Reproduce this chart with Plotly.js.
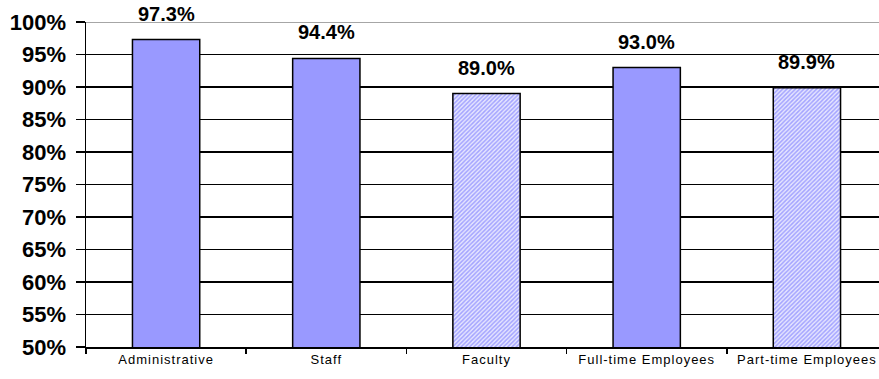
<!DOCTYPE html>
<html><head><meta charset="utf-8">
<script src="https://cdn.plot.ly/plotly-3.0.1.min.js"></script>
<style>html,body{margin:0;padding:0;background:#fff;}
.xtick text{letter-spacing:1px;}</style>
</head><body>
<div id="chart" style="width:879px;height:379px;"></div>
<script>
const categories = ["Administrative", "Staff", "Faculty", "Full-time Employees", "Part-time Employees"];
const values = [97.3, 94.4, 89.0, 93.0, 89.9];
const hatched = [false, false, true, false, true];
const yTickVals = [50, 55, 60, 65, 70, 75, 80, 85, 90, 95, 100];
const yTickText = yTickVals.map(v => v + "%");

const trace = {
  type: "bar",
  x: categories,
  y: values,
  width: 0.42,
  marker: {
    color: "#9999FF",
    line: {color: "#000000", width: 1.5},
    pattern: {
      shape: hatched.map(h => h ? "/" : ""),
      fillmode: "replace",
      bgcolor: "#E6E6FF",
      fgcolor: "#A3A3FF",
      size: 3,
      solidity: 0.5
    }
  },
  hoverinfo: "none"
};

const annotations = categories.map((c, i) => ({
  x: c, y: values[i], xref: "x", yref: "y",
  text: values[i].toFixed(1) + "%",
  showarrow: false, yanchor: "bottom", yshift: 13,
  font: {family: "Arial, Liberation Sans, sans-serif", size: 20, color: "#000", weight: "bold"}
}));

const layout = {
  width: 879, height: 379,
  margin: {l: 86, r: 0, t: 22, b: 32},
  paper_bgcolor: "#fff", plot_bgcolor: "#fff",
  showlegend: false,
  xaxis: {
    type: "category",
    range: [-0.5, 4.45],
    showline: true, linecolor: "#000", linewidth: 1.5,
    ticks: "outside", ticklen: 5, tickcolor: "#000", tickwidth: 1.5,
    tickson: "boundaries",
    showgrid: false,
    tickfont: {family: "Arial, Liberation Sans, sans-serif", size: 13, color: "#000"},
    fixedrange: true
  },
  yaxis: {
    range: [50, 100],
    tickvals: yTickVals, ticktext: yTickText,
    showline: true, linecolor: "#000", linewidth: 1.5,
    ticks: "outside", ticklen: 9, tickcolor: "#000", tickwidth: 1.5,
    ticklabelstandoff: 5,
    showgrid: true, gridcolor: "#000", gridwidth: 1.5,
    zeroline: false,
    tickfont: {family: "Arial, Liberation Sans, sans-serif", size: 22, color: "#000", weight: "bold"},
    fixedrange: true
  },
  shapes: [{
    type: "line", xref: "paper", yref: "y", x0: 0, x1: 1, y0: 100, y1: 100,
    line: {color: "#888888", width: 1.5}, layer: "above"
  }],
  annotations: annotations
};

Plotly.newPlot("chart", [trace], layout, {displayModeBar: false, staticPlot: true});
</script>
</body></html>
